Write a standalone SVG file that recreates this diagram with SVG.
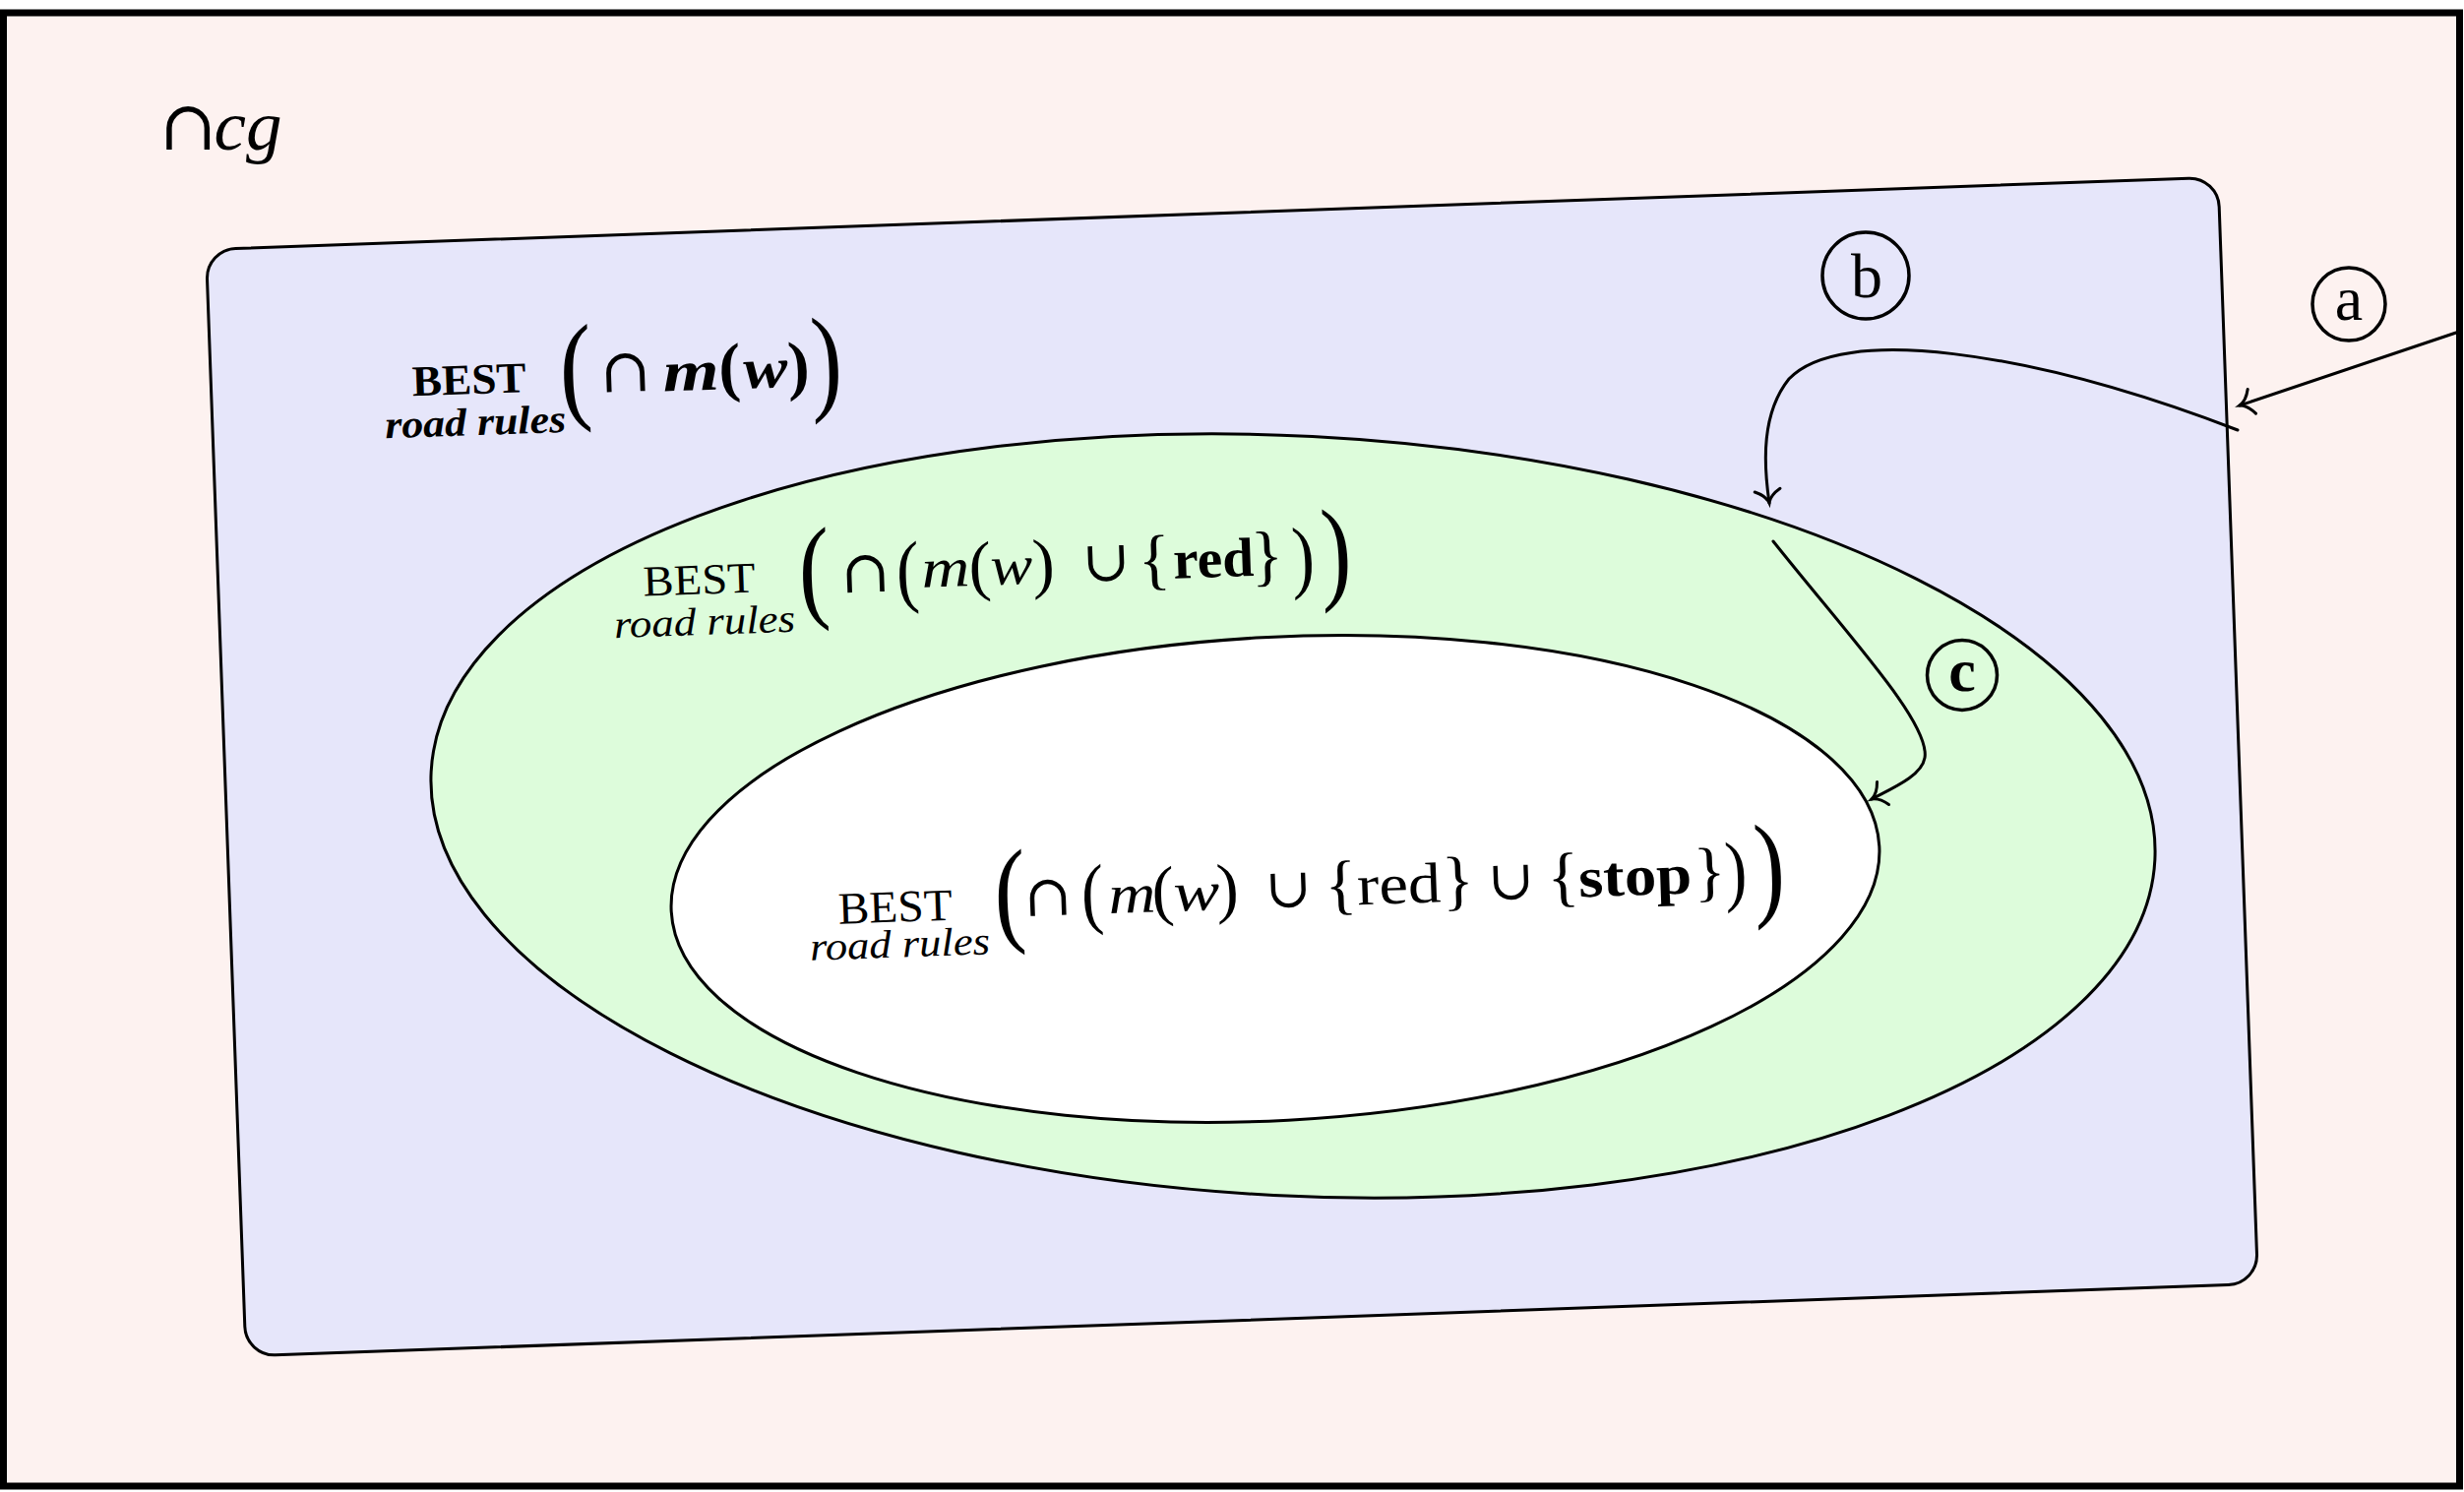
<svg xmlns="http://www.w3.org/2000/svg" width="2504" height="1516" viewBox="0 0 2504 1516">
<defs>
<style>
.t{font-family:"Liberation Serif","DejaVu Serif",serif;fill:#000}
.i{font-style:italic}
.b{font-weight:bold}
.sym{font-family:"DejaVu Serif",serif;fill:#000}
.c{text-anchor:middle}
.edge{fill:none;stroke:#000;stroke-width:3;stroke-linecap:round}
.ring{fill:none;stroke:#000;stroke-width:3.5}
</style>
<marker id="arr" markerUnits="userSpaceOnUse" markerWidth="40" markerHeight="40" viewBox="-20 -20 40 40" refX="0" refY="0" orient="auto" overflow="visible">
<path d="M-13,-13 C-9,-5 -4,-1.2 0,0 C-4,1.2 -9,5 -13,13" fill="none" stroke="#000" stroke-width="3" stroke-linecap="round"/>
</marker>
</defs>

<g id="frame">
<rect x="3.5" y="13" width="2496" height="1497" fill="#fdf2f0" stroke="#000" stroke-width="7"/>
<text class="sym c" x="191" y="152" font-size="70">∩</text>
<text class="t i c" x="252" y="152" font-size="72" textLength="69" lengthAdjust="spacingAndGlyphs">cg</text>
</g>

<g id="node-road-rules">
<rect x="229" y="216.5" width="2046" height="1125" rx="30" fill="#e6e6fa" stroke="#000" stroke-width="3" transform="rotate(-2.06 1252 779)"/>
<g transform="rotate(-2 572 395)">
<text class="t b c" x="477" y="397" font-size="44" textLength="116" lengthAdjust="spacingAndGlyphs">BEST</text>
<text class="t b i c" x="482" y="439" font-size="40" textLength="184" lengthAdjust="spacingAndGlyphs">road rules</text>
<text class="t c" transform="translate(585.5 414.4) scale(0.8 1)" font-size="122">(</text>
<text class="sym c" x="636" y="400" font-size="62">∩</text>
<text class="t b i c" x="702.5" y="401" font-size="58" textLength="57" lengthAdjust="spacingAndGlyphs">m</text>
<text class="t b c" x="742" y="401" font-size="67">(</text>
<text class="t b i c" x="778.5" y="401" font-size="58" textLength="45" lengthAdjust="spacingAndGlyphs">w</text>
<text class="t b c" x="812" y="402" font-size="67">)</text>
<text class="t c" transform="translate(840.5 414.8) scale(0.8 1)" font-size="120">)</text>
</g>
</g>

<g id="node-red">
<ellipse cx="1314" cy="829" rx="877" ry="386" fill="#ddfcdb" stroke="#000" stroke-width="3" transform="rotate(2.93 1314 829)"/>
<g transform="rotate(-2 814 600)">
<text class="t c" x="711" y="600" font-size="44" textLength="114" lengthAdjust="spacingAndGlyphs">BEST</text>
<text class="t i c" x="715" y="641.5" font-size="40" textLength="184" lengthAdjust="spacingAndGlyphs">road rules</text>
<text class="t c" transform="translate(828 617.3) scale(0.8 1)" font-size="117">(</text>
<text class="sym c" x="880" y="604" font-size="60">∩</text>
<text class="t c" transform="translate(923 610.5) scale(0.85 1)" font-size="82">(</text>
<text class="t i c" x="961.5" y="601" font-size="56" textLength="49" lengthAdjust="spacingAndGlyphs">m</text>
<text class="t c" x="996.5" y="603.6" font-size="68">(</text>
<text class="t i c" x="1028.5" y="601" font-size="56" textLength="43" lengthAdjust="spacingAndGlyphs">w</text>
<text class="t c" x="1061" y="603.6" font-size="68">)</text>
<text class="sym c" x="1125" y="601" font-size="58">∪</text>
<text class="t c" x="1174" y="603.4" font-size="68">{</text>
<text class="t b c" x="1234" y="601" font-size="56" textLength="82" lengthAdjust="spacingAndGlyphs">red</text>
<text class="t c" x="1288.5" y="603.4" font-size="68">}</text>
<text class="t c" transform="translate(1325 610.5) scale(0.85 1)" font-size="82">)</text>
<text class="t c" transform="translate(1358.5 617.3) scale(0.8 1)" font-size="117">)</text>
</g>
</g>

<g id="node-stop">
<ellipse cx="1296" cy="893" rx="614.7" ry="245.6" fill="#ffffff" stroke="#000" stroke-width="3" transform="rotate(-3.09 1296 893)"/>
<g transform="rotate(-2 1015 930)">
<text class="t c" x="910" y="933" font-size="46" textLength="116" lengthAdjust="spacingAndGlyphs">BEST</text>
<text class="t i c" x="913.5" y="969" font-size="40" textLength="183" lengthAdjust="spacingAndGlyphs">road rules</text>
<text class="t c" transform="translate(1027 945.8) scale(0.8 1)" font-size="119">(</text>
<text class="sym c" x="1065.5" y="932" font-size="58">∩</text>
<text class="t c" transform="translate(1111 937) scale(0.85 1)" font-size="80">(</text>
<text class="t i c" x="1151" y="932" font-size="56" textLength="48" lengthAdjust="spacingAndGlyphs">m</text>
<text class="t c" x="1182.5" y="933" font-size="68">(</text>
<text class="t i c" x="1216.5" y="932" font-size="56" textLength="47" lengthAdjust="spacingAndGlyphs">w</text>
<text class="t c" x="1248" y="933" font-size="68">)</text>
<text class="sym c" x="1310" y="932" font-size="56">∪</text>
<text class="t c" x="1363.5" y="933" font-size="67">{</text>
<text class="t c" x="1422.5" y="932" font-size="58" textLength="85" lengthAdjust="spacingAndGlyphs">red</text>
<text class="t c" x="1482.5" y="933" font-size="67">}</text>
<text class="sym c" x="1536.5" y="932" font-size="56">∪</text>
<text class="t c" x="1589.5" y="933" font-size="67">{</text>
<text class="t b c" x="1662.5" y="932" font-size="58" textLength="115" lengthAdjust="spacingAndGlyphs">stop</text>
<text class="t c" x="1738.5" y="933" font-size="67">}</text>
<text class="t c" transform="translate(1765 937) scale(0.85 1)" font-size="80">)</text>
<text class="t c" transform="translate(1799 947) scale(0.8 1)" font-size="119">)</text>
</g>
</g>

<g id="label-a">
<circle cx="2387" cy="309" r="37" class="ring"/>
<text class="t c" x="2387" y="325" font-size="64">a</text>
</g>
<g id="label-b">
<circle cx="1896" cy="280" r="44" class="ring"/>
<text class="t c" x="1897" y="302" font-size="64">b</text>
</g>
<g id="label-c">
<circle cx="1994" cy="686" r="35.5" class="ring"/>
<text class="t b c" x="1994" y="702" font-size="62">c</text>
</g>

<g id="connectors">
<path class="edge" d="M2496,338 L2276,412" marker-end="url(#arr)"/>
<path class="edge" d="M2274,437 C2060,355 1870,330 1818,385 C1790,420 1792,470 1798,511" marker-end="url(#arr)"/>
<path class="edge" d="M1802,550 C1880,648 1962,735 1956,770 C1953,788 1925,800 1902,812" marker-end="url(#arr)"/>
</g>
</svg>
